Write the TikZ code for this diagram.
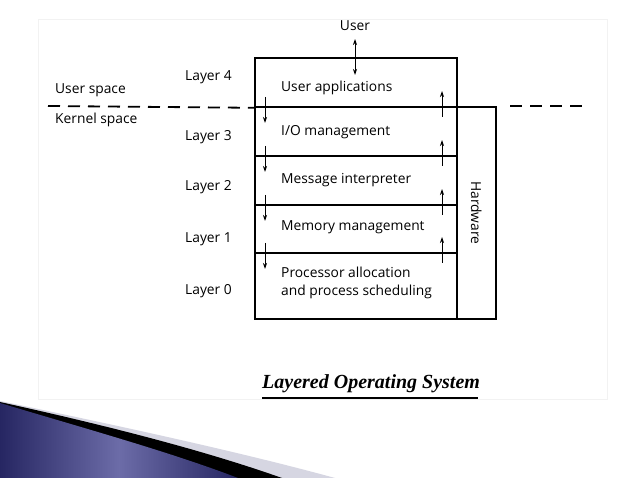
\documentclass[tikz,border=0pt]{standalone}
\usepackage{fontspec}
\setmainfont{Open Sans}
\newfontfamily\capfont{Liberation Serif}
\usetikzlibrary{arrows.meta}
\definecolor{navyD}{RGB}{38,38,98}
\definecolor{navyL}{RGB}{108,108,168}
\definecolor{swgray}{RGB}{214,214,226}
\begin{document}
\begin{tikzpicture}[x=1pt,y=-1pt,
  txt/.style={font=\fontsize{13.8}{18}\selectfont, inner sep=0pt, anchor=west, align=left},
  layerbox/.style={draw, line width=1.8pt, minimum width=202pt, anchor=north west, inner sep=0pt},
  hwbox/.style={draw, line width=1.8pt, minimum width=39pt, minimum height=212pt, anchor=north west, inner sep=0pt},
  sep/.style={line width=1.8pt, dash pattern=on 12pt off 8pt},
  arr/.style={line width=0.8pt, -{Stealth[length=6pt,width=4pt]}}]
\useasboundingbox (0,0) rectangle (638,478);
\fill[white] (0,0) rectangle (638,478);
\draw[black!5, line width=1pt] (38,20) rectangle (607,400);
% swoosh
\fill[swgray] (0,401) .. controls (120,426) and (240,452) .. (335,478) -- (0,478) -- cycle;
\fill[black] (0,402) .. controls (100,424) and (200,449) .. (282,478) -- (0,478) -- cycle;
\shade[left color=navyD, right color=navyD, middle color=navyL] (0,403) .. controls (90,430) and (170,452) .. (238,478) -- (0,478) -- cycle;
% layers
\node[layerbox, minimum height=49pt] (l4) at (254,57) {};
\node[layerbox, minimum height=49pt] (l3) at (254,106) {};
\node[layerbox, minimum height=49pt] (l2) at (254,155) {};
\node[layerbox, minimum height=48pt] (l1) at (254,204) {};
\node[layerbox, minimum height=66pt] (l0) at (254,252) {};
\node[hwbox] (hw) at (456,106) {};
\node[font=\fontsize{13.8}{18}\selectfont, rotate=-90, inner sep=0pt] (hwt) at (hw.center) {Hardware};
% texts
\node[txt] (t4) at (281,88) {User applications};
\node[txt] (t3) at (281,132) {I/O management};
\node[txt] (t2) at (281,180) {Message interpreter};
\node[txt] (t1) at (281,227) {Memory management};
\node[txt] (t0) at (281,283) {Processor allocation\\and process scheduling};
\node[txt] (ly4) at (185,77) {Layer 4};
\node[txt] (ly3) at (185,137) {Layer 3};
\node[txt] (ly2) at (185,187) {Layer 2};
\node[txt] (ly1) at (185,239) {Layer 1};
\node[txt] (ly0) at (185,291) {Layer 0};
\node[txt] (us) at (55,90) {User space};
\node[txt] (ks) at (55,120) {Kernel space};
\node[font=\fontsize{13.8}{18}\selectfont, inner sep=0pt] (user) at (355,26) {User};
% dashed separator
\coordinate (dl) at (48,106);
\coordinate (dr1) at (510,106);
\coordinate (dr2) at (588,106);
\draw[sep] (dl) -- (l4.south west);
\draw[sep] (dr1) -- (dr2);
% user arrow
\coordinate (ua) at (355,39);
\coordinate (ub) at (355,75);
\draw[line width=0.8pt, {Stealth[length=6pt,width=4pt]}-{Stealth[length=6pt,width=4pt]}] (ub) -- (ua);
% inter-layer arrows
\foreach \d in {106,155,204,252}{
  \draw[arr] (265,\d-9) -- (265,\d+17);
  \draw[arr] (442,\d+11) -- (442,\d-15);
}
% caption
\node[font=\capfont\bfseries\itshape\fontsize{20}{24}\selectfont, inner sep=0pt, anchor=base west] (cap) at (262,389) {Layered Operating System};
\draw[line width=1.8pt] (262,398) -- (478,398);
\end{tikzpicture}
\end{document}
